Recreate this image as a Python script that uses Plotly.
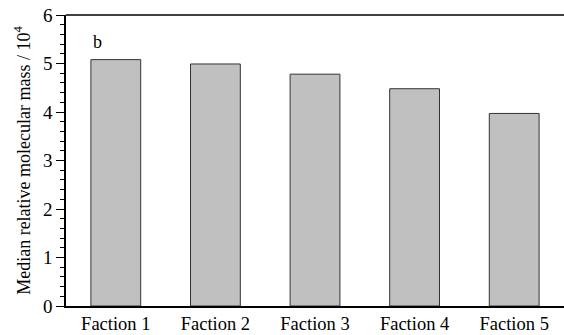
import plotly.graph_objects as go

categories = ["Faction 1", "Faction 2", "Faction 3", "Faction 4", "Faction 5"]
median_mass = [5.08, 4.99, 4.78, 4.48, 3.97]
panel_label = "b"

FONT = "Liberation Serif"

fig = go.Figure()
fig.add_trace(go.Bar(
    x=list(range(len(categories))),
    y=median_mass,
    width=0.5,
    marker=dict(color="#c0c0c0", line=dict(color="#333333", width=1)),
    showlegend=False,
    cliponaxis=True,
))

fig.add_annotation(
    x=-0.185, y=5.45, text=panel_label, showarrow=False,
    font=dict(family=FONT, size=18, color="black"),
    xanchor="center", yanchor="middle",
)

# top frame line across the plot area
fig.add_shape(type="line", xref="paper", yref="paper", x0=0, x1=1, y0=1, y1=1,
              line=dict(color="black", width=1.5))

fig.update_layout(
    template="none",
    width=564, height=335,
    margin=dict(l=66, r=0, t=15, b=29, autoexpand=False),
    paper_bgcolor="white", plot_bgcolor="white",
    font=dict(family=FONT, size=18, color="black"),
    xaxis=dict(
        range=[-0.5, 4.5],
        automargin=False,
        tickmode="array",
        tickvals=list(range(len(categories))),
        ticktext=categories,
        ticks="",
        showline=True, linecolor="black", linewidth=1.5,
        mirror=False,
        showgrid=False, zeroline=False,
        tickfont=dict(family=FONT, size=18.5, color="black"),
    ),
    yaxis=dict(
        range=[0, 6],
        automargin=False,
        dtick=1,
        ticks="outside", ticklen=8, tickwidth=1.2, tickcolor="black",
        minor=dict(dtick=0.2, ticks="outside", ticklen=4, tickwidth=1, tickcolor="black",
                   showgrid=False),
        showline=True, linecolor="black", linewidth=1.5,
        mirror=False,
        showgrid=False, zeroline=False,
        tickfont=dict(family=FONT, size=19, color="black"),
        title=dict(text="Median relative molecular mass / 10<sup>4</sup>",
                   font=dict(family=FONT, size=18, color="black"), standoff=8),
    ),
)

fig.write_html("out.html", config={"displayModeBar": False})
